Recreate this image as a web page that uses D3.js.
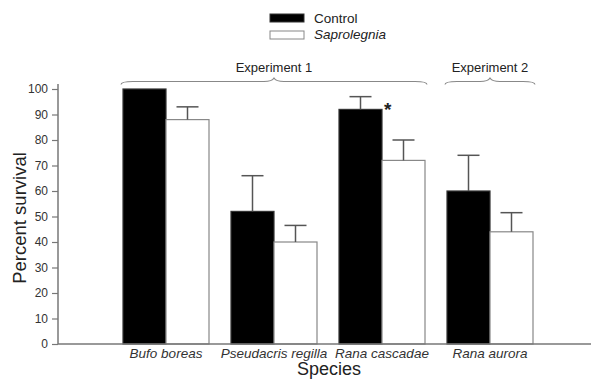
<!DOCTYPE html>
<html><head><meta charset="utf-8">
<script src="https://cdn.jsdelivr.net/npm/d3@7"></script>
<style>body{margin:0;background:#fff}svg{display:block}text{font-family:"Liberation Sans",Arial,sans-serif}</style>
</head><body><svg id="c" width="591" height="379"></svg>
<script>
const species = ["Bufo boreas","Pseudacris regilla","Rana cascadae","Rana aurora"];
const seriesNames = ["Control","Saprolegnia"];
const controlMean = [100, 52, 92, 60];
const controlErr = [0, 14, 5, 14];
const saproMean = [88, 40, 72, 44];
const saproErr = [5, 6.5, 8, 7.5];
const yTicks = [0,10,20,30,40,50,60,70,80,90,100];
const groups = [{label:"Experiment 1", from:0, to:2},{label:"Experiment 2", from:3, to:3}];

const svg = d3.select("#c");
const axisX = 58, baseY = 344;
const y = d3.scaleLinear().domain([0,100]).range([baseY, 89]);
const x0 = d3.scaleBand().domain(species).range([69, 587]).paddingInner(22/108).paddingOuter(0.5);
const x1 = d3.scaleBand().domain(seriesNames).range([0, x0.bandwidth()]);
const grey = "#777";

// y axis
const yAxis = d3.axisLeft(y).tickValues(yTicks).tickSize(6).tickPadding(4).tickSizeOuter(0);
const gy = svg.append("g").attr("transform",`translate(${axisX},0)`).call(yAxis);
gy.select(".domain").remove();
gy.selectAll(".tick line").attr("stroke",grey).attr("stroke-width",1.2);
gy.selectAll(".tick text").attr("fill","#333").style("font-size","12px");
svg.append("line").attr("x1",axisX).attr("x2",axisX).attr("y1",y(102)).attr("y2",baseY).attr("stroke",grey).attr("stroke-width",1.5);

// bars
const data = species.map((s,i)=>({s, vals:[{k:"Control",v:controlMean[i],e:controlErr[i]},{k:"Saprolegnia",v:saproMean[i],e:saproErr[i]}]}));
const g = svg.append("g").selectAll("g").data(data).join("g").attr("transform",d=>`translate(${x0(d.s)},0)`);
g.selectAll("rect").data(d=>d.vals).join("rect")
  .attr("x",d=>x1(d.k)).attr("width",x1.bandwidth())
  .attr("y",d=>y(d.v)).attr("height",d=>baseY-y(d.v))
  .attr("fill",d=>d.k==="Control"?"#000":"#fff")
  .attr("stroke",d=>d.k==="Control"?"#333":"#888").attr("stroke-width",1.2);
// error bars
const eb = g.selectAll("g.err").data(d=>d.vals.filter(v=>v.e>0)).join("g").attr("class","err");
eb.append("line").attr("x1",d=>x1(d.k)+x1.bandwidth()/2).attr("x2",d=>x1(d.k)+x1.bandwidth()/2)
  .attr("y1",d=>y(d.v)).attr("y2",d=>y(d.v+d.e)).attr("stroke","#555").attr("stroke-width",1.5);
eb.append("line").attr("x1",d=>x1(d.k)+x1.bandwidth()/2-11).attr("x2",d=>x1(d.k)+x1.bandwidth()/2+11)
  .attr("y1",d=>y(d.v+d.e)).attr("y2",d=>y(d.v+d.e)).attr("stroke","#555").attr("stroke-width",1.5);

// x axis line
svg.append("line").attr("x1",axisX).attr("x2",591).attr("y1",baseY).attr("y2",baseY).attr("stroke",grey).attr("stroke-width",1.5);
// category labels
svg.selectAll("text.cat").data(species).join("text").attr("class","cat")
  .attr("x",d=>x0(d)+x0.bandwidth()/2).attr("y",358).attr("text-anchor","middle")
  .style("font-size","13.5px").style("font-style","italic").attr("fill","#333").text(d=>d);

// asterisk
svg.append("text").attr("x",x0("Rana cascadae")+x1.bandwidth()+2).attr("y",y(controlMean[2])+7)
  .style("font-size","19px").style("font-weight","bold").attr("fill","#222").text("*");

// axis titles
svg.append("text").attr("transform","translate(26,218) rotate(-90)").attr("text-anchor","middle")
  .style("font-size","18.5px").attr("fill","#222").text("Percent survival");
svg.append("text").attr("x",329).attr("y",375).attr("text-anchor","middle")
  .style("font-size","18px").attr("fill","#222").text("Species");

// braces
function brace(xa, xb, yb){
  const m=(xa+xb)/2;
  return `M${xa},${yb+3} Q${xa},${yb} ${xa+12},${yb} L${m-10},${yb} Q${m-2},${yb} ${m},${yb-3.5} Q${m+2},${yb} ${m+10},${yb} L${xb-12},${yb} Q${xb},${yb} ${xb},${yb+3}`;
}
groups.forEach((gr)=>{
  const xa = x0(species[gr.from]) - 2;
  const xb = x0(species[gr.to]) + x0.bandwidth() + 2;
  svg.append("path").attr("d",brace(xa,xb,81.5)).attr("fill","none").attr("stroke","#888").attr("stroke-width",1.1);
  svg.append("text").attr("x",(xa+xb)/2).attr("y",72).attr("text-anchor","middle")
    .style("font-size","13px").attr("fill","#222").text(gr.label);
});

// legend
const leg = svg.append("g").attr("transform","translate(270,14)");
seriesNames.forEach((n,i)=>{
  leg.append("rect").attr("x",0).attr("y",i*17).attr("width",34).attr("height",8)
    .attr("fill",i===0?"#000":"#fff").attr("stroke",i===0?"#333":"#888");
  leg.append("text").attr("x",44).attr("y",i*16+9).style("font-size","13.5px")
    .style("font-style",i===1?"italic":"normal").attr("fill","#222").text(n);
});
</script></body></html>
